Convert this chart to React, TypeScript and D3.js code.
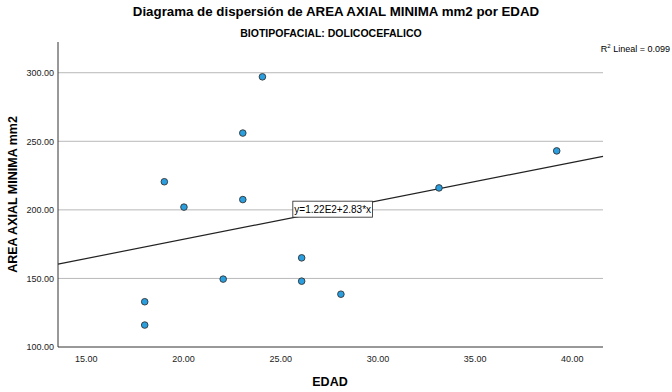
import React, { useEffect, useRef } from 'react';
import * as d3 from 'd3';

// EDAD (years) and AREA AXIAL MINIMA (mm2)
const edad = [18, 18, 19, 20, 22, 23, 23, 24, 26, 26, 28, 33, 39];
const area = [116, 133, 220.5, 202, 149.5, 256, 207.5, 297, 165, 148, 138.5, 216, 243];

const xTicks = [15, 20, 25, 30, 35, 40];
const yTicks = [100, 150, 200, 250, 300];

// fitted line y = 1.22E2 + 2.83*x
const intercept = 122;
const slope = 2.83;
const r2 = 0.099;

const width = 672;
const height = 392;

const margin = { top: 42, right: 69, bottom: 45, left: 58 };

const font = '"Liberation Sans", Arial, sans-serif';

export default function App() {
  const ref = useRef<SVGSVGElement>(null);

  useEffect(() => {
    const svg = d3.select(ref.current);
    svg.selectAll('*').remove();

    const x = d3.scaleLinear().domain([13.58, 41.36]).range([margin.left, width - margin.right]);
    const y = d3.scaleLinear().domain([100, 322.4]).range([height - margin.bottom, margin.top]);

    // title
    svg.append('text')
      .attr('x', 336).attr('y', 16)
      .attr('text-anchor', 'middle')
      .attr('font-family', font).attr('font-weight', 'bold').attr('font-size', 13.3)
      .text('Diagrama de dispersión de AREA AXIAL MINIMA mm2 por EDAD');

    svg.append('text')
      .attr('x', 331).attr('y', 37)
      .attr('text-anchor', 'middle')
      .attr('font-family', '"Liberation Sans Narrow", "Liberation Sans", sans-serif')
      .attr('font-weight', 'bold').attr('font-size', 10.5)
      .text('BIOTIPOFACIAL: DOLICOCEFALICO');

    // gridlines
    svg.append('g')
      .selectAll('line')
      .data(yTicks.filter(t => t > 100))
      .join('line')
      .attr('x1', margin.left).attr('x2', width - margin.right)
      .attr('y1', d => y(d)).attr('y2', d => y(d))
      .attr('stroke', '#b8b8b8').attr('stroke-width', 1);

    // axes
    const yAxis = svg.append('g')
      .attr('transform', `translate(${margin.left},0)`)
      .call(d3.axisLeft(y).tickValues(yTicks).tickSize(0).tickPadding(4).tickFormat(d3.format('.2f')));
    yAxis.select('.domain').attr('stroke', '#333').attr('d', `M0,${margin.top}V${height - margin.bottom}`);
    yAxis.selectAll('text').attr('font-family', font).attr('font-size', 9).attr('fill', '#222');

    const xAxis = svg.append('g')
      .attr('transform', `translate(0,${height - margin.bottom})`)
      .call(d3.axisBottom(x).tickValues(xTicks).tickSize(0).tickPadding(9).tickFormat(d3.format('.2f')));
    xAxis.select('.domain').attr('stroke', '#333').attr('d', `M${margin.left},0H${width - margin.right}`);
    xAxis.selectAll('text').attr('font-family', font).attr('font-size', 9).attr('fill', '#222')
      .attr('dx', (d: any) => -(d - 15) * 0.18);

    // axis titles
    svg.append('text')
      .attr('transform', `translate(17,${(margin.top + height - margin.bottom) / 2}) rotate(-90)`)
      .attr('text-anchor', 'middle')
      .attr('font-family', font).attr('font-weight', 'bold').attr('font-size', 12.5)
      .text('AREA AXIAL MINIMA mm2');

    svg.append('text')
      .attr('x', 330).attr('y', 386)
      .attr('text-anchor', 'middle')
      .attr('font-family', font).attr('font-weight', 'bold').attr('font-size', 12.5)
      .text('EDAD');

    // fit line
    const [x0, x1] = x.domain();
    svg.append('line')
      .attr('x1', x(x0)).attr('y1', y(intercept + slope * x0))
      .attr('x2', x(x1)).attr('y2', y(intercept + slope * x1))
      .attr('stroke', '#222').attr('stroke-width', 1.2);

    // points
    svg.append('g')
      .selectAll('circle')
      .data(edad.map((e, i) => [e, area[i]]))
      .join('circle')
      .attr('cx', d => x(d[0]))
      .attr('cy', d => y(d[1]))
      .attr('r', 3.3)
      .attr('fill', '#2a9fe0')
      .attr('stroke', '#333')
      .attr('stroke-width', 0.9);

    // equation label, anchored on the line
    const lx = 25.55;
    const bx = x(lx);
    const by = y(intercept + slope * lx);
    const label = svg.append('g').attr('transform', `translate(${bx},${by})`);
    const txt = label.append('text')
      .attr('x', 1.5).attr('y', -4.5)
      .attr('font-family', font).attr('font-size', 10)
      .text(`y=${(intercept / 100).toFixed(2)}E2+${slope.toFixed(2)}*x`);
    const w = (txt.node() as SVGTextElement).getComputedTextLength() + 3;
    label.insert('rect', 'text')
      .attr('x', 0).attr('y', -16.5)
      .attr('width', w).attr('height', 16)
      .attr('fill', '#fff').attr('stroke', '#222').attr('stroke-width', 0.8);

    // R2
    const rt = svg.append('text')
      .attr('x', 670).attr('y', 52)
      .attr('text-anchor', 'end')
      .attr('font-family', font).attr('font-size', 9);
    rt.append('tspan').text('R');
    rt.append('tspan').attr('font-size', 6).attr('dy', -4).text('2');
    rt.append('tspan').attr('dy', 4).text(` Lineal = ${r2.toFixed(3)}`);
  }, []);

  return (
    <svg
      ref={ref}
      width={width}
      height={height}
      style={{ position: 'absolute', left: 0, top: 0, background: '#fff' }}
    />
  );
}
